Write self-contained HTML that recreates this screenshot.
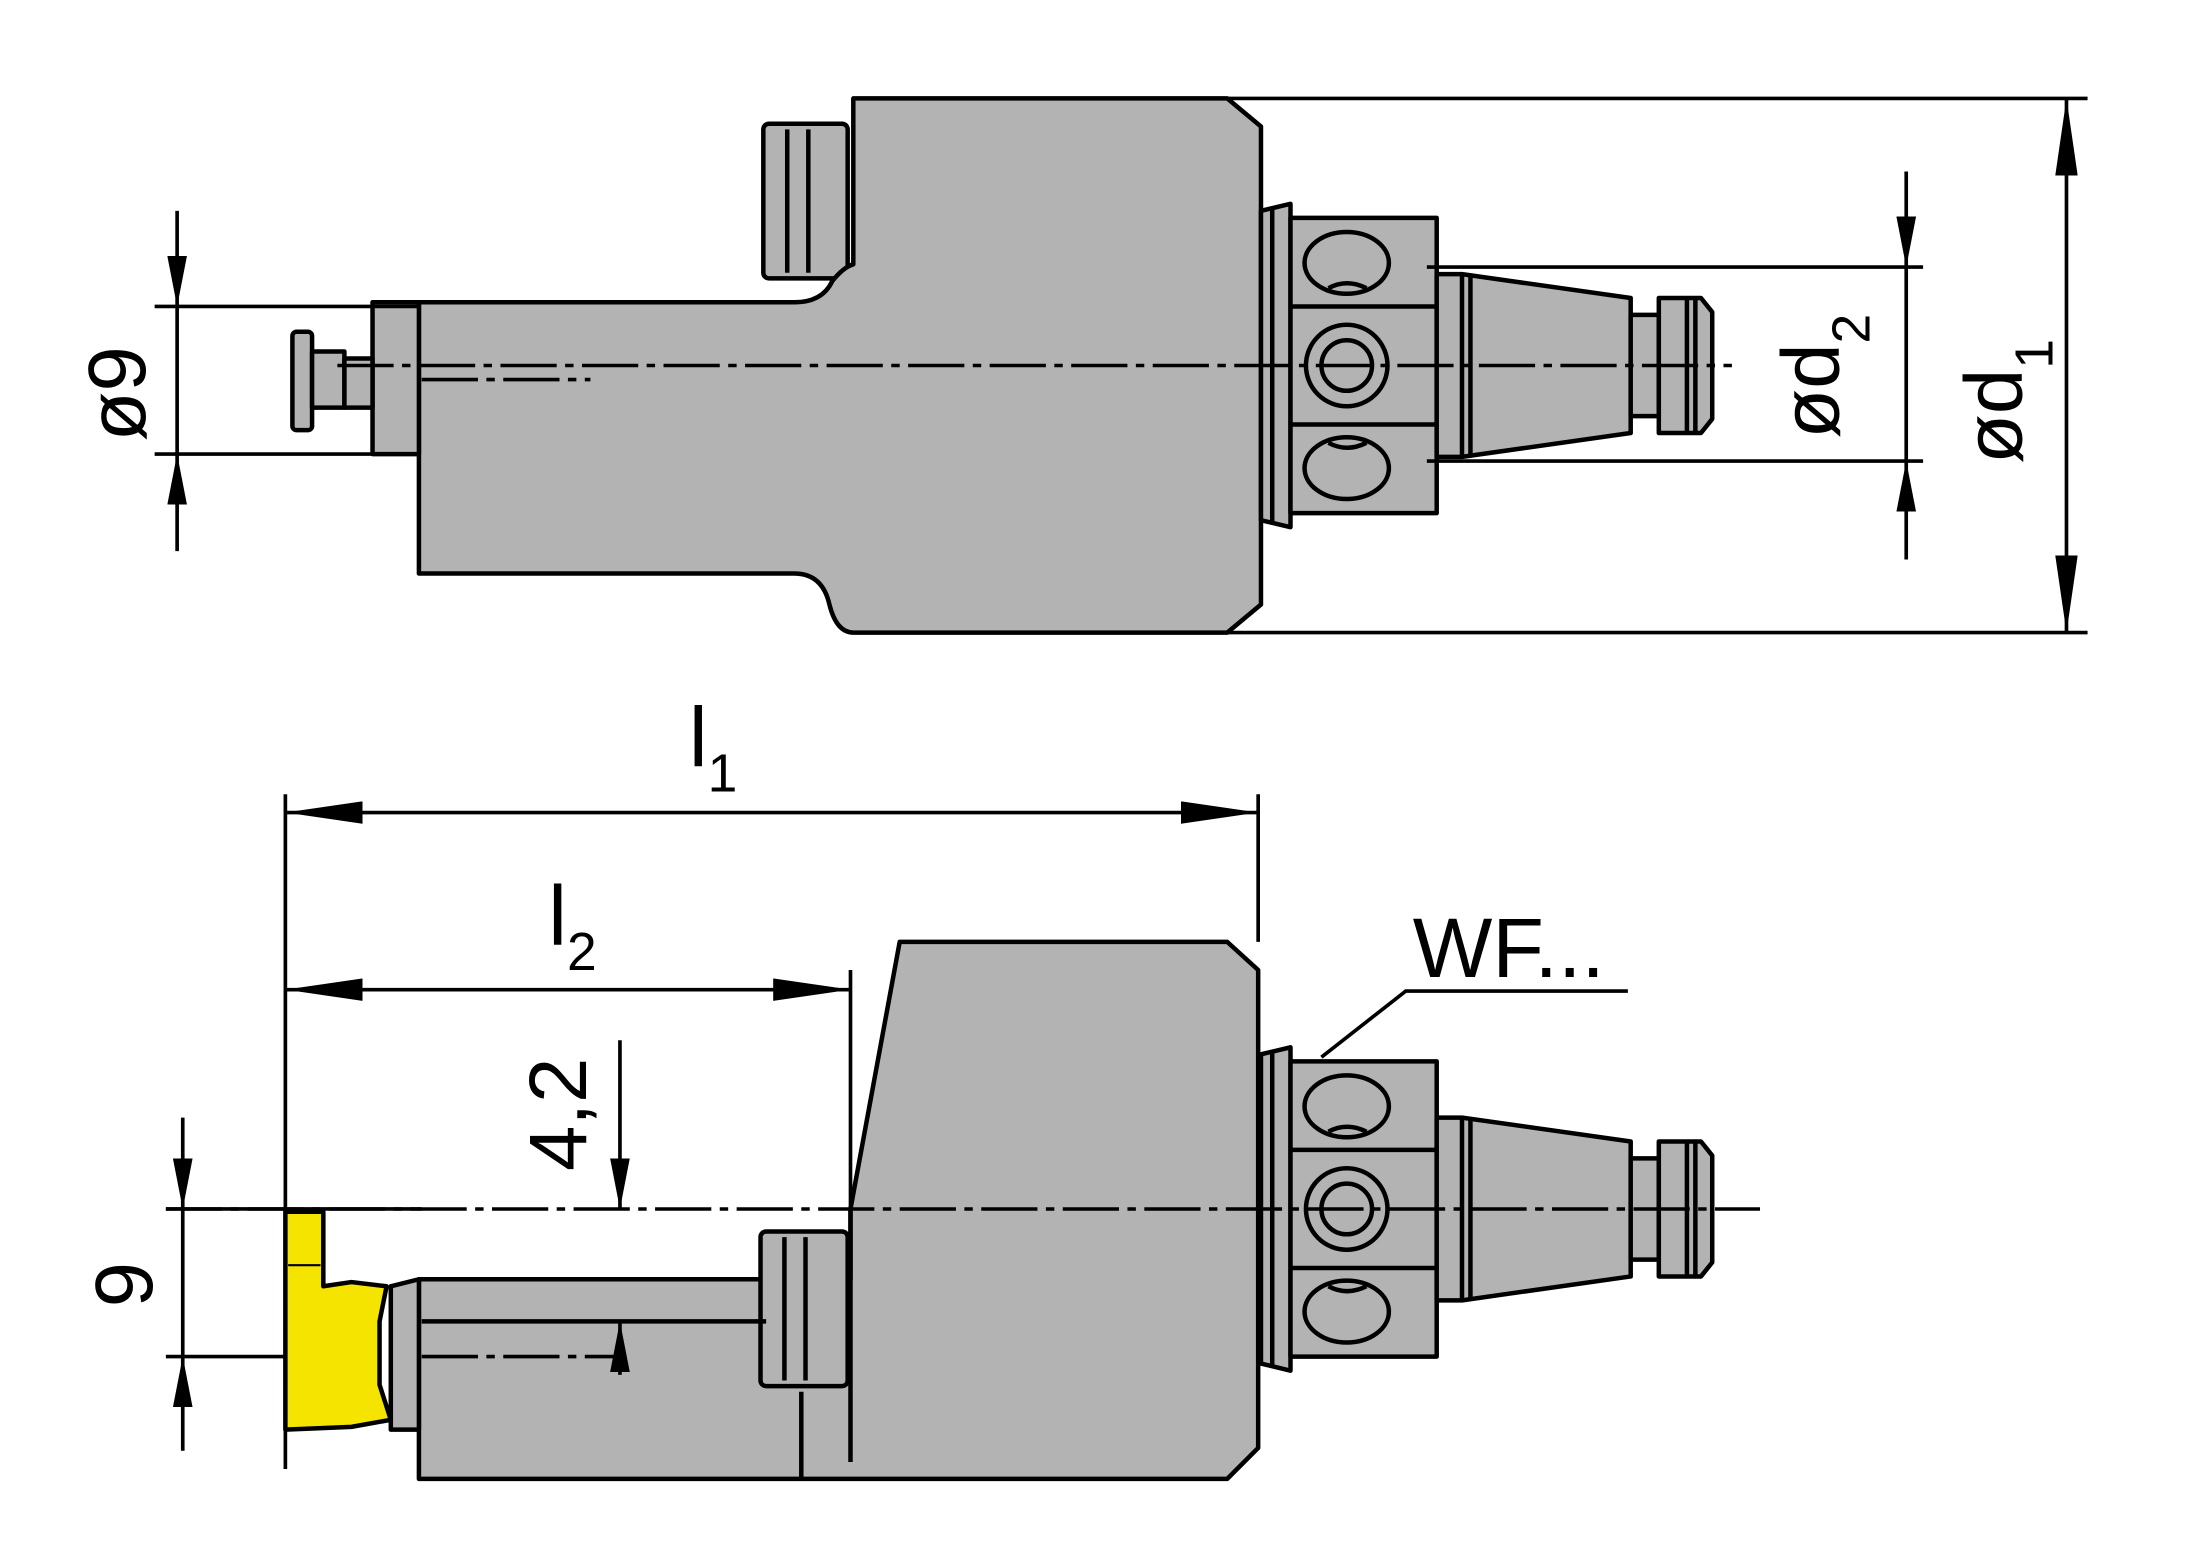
<!DOCTYPE html>
<html><head><meta charset="utf-8"><style>
html,body{margin:0;padding:0;background:#fff}
svg{display:block}
text{font-family:"Liberation Sans",Arial,sans-serif;fill:#000}
</style></head><body>
<svg width="2193" height="1559" viewBox="0 0 1560 1109" xmlns="http://www.w3.org/2000/svg">
<defs>
<marker id="a" viewBox="0 0 36 14" refX="36" refY="7" markerWidth="36" markerHeight="14" markerUnits="userSpaceOnUse" orient="auto-start-reverse"><path d="M0,0 L36,7 L0,14 z" fill="#000"/></marker>
<marker id="b" viewBox="0 0 55 16" refX="55" refY="8" markerWidth="55" markerHeight="16" markerUnits="userSpaceOnUse" orient="auto-start-reverse"><path d="M0,0 L55,8 L0,16 z" fill="#000"/></marker>
</defs>
<g stroke="#000" stroke-width="3.2" fill="#b3b3b3" stroke-linejoin="round">
<!-- TOP VIEW -->
<rect x="543" y="88" width="60" height="110" rx="4"/>
<line x1="560" y1="92" x2="560" y2="194"/><line x1="575" y1="92" x2="575" y2="194"/>
<path d="M607,70 L873,70 L897,90 L897,430 L873,450 L607,450 Q595,450 590,430 Q585,408 565,408 L298,408 L298,215 L565,215 Q585,215 592,200 Q600,190 607,188 Z"/>
<path d="M265,215 L298,215 L298,323 L265,323 Z"/>
<rect x="208" y="236" width="14" height="70" rx="3"/>
<path d="M222,250 L245,250 L245,290 L222,290 Z"/>
<path d="M245,255 L265,255 L265,290 L245,290 Z"/>
<path d="M897,150 L918,145 L918,375 L897,370 Z"/>
<line x1="905" y1="148" x2="905" y2="372"/>
<rect x="918" y="155" width="104" height="210"/>
<line x1="918" y1="218" x2="1022" y2="218"/><line x1="918" y1="302" x2="1022" y2="302"/>
<ellipse cx="958" cy="187" rx="30" ry="22"/><path d="M945,205 Q958,198 972,205" fill="none"/>
<ellipse cx="958" cy="333" rx="30" ry="22"/><path d="M945,315 Q958,322 972,315" fill="none"/>
<circle cx="958" cy="260" r="29"/><circle cx="958" cy="260" r="18"/>
<path d="M1022,195 L1040,195 L1160,212 L1160,308 L1040,325 L1022,325 Z"/>
<line x1="1040" y1="195" x2="1040" y2="325"/><line x1="1046" y1="195" x2="1046" y2="325"/>
<rect x="1160" y="224" width="20" height="72"/>
<path d="M1180,212 L1210,212 L1218,222 L1218,298 L1210,308 L1180,308 Z"/>
<line x1="1200" y1="212" x2="1200" y2="308"/><line x1="1206" y1="212" x2="1206" y2="308"/>
<!-- BOTTOM VIEW -->
<path d="M640,670 L873,670 L895,690 L895,1030 L873,1052 L298,1052 L298,910 L545,910 L605,910 L605,860 Z"/>
<line x1="605" y1="860" x2="605" y2="1040"/><line x1="570" y1="990" x2="570" y2="1052"/>
<rect x="541" y="876" width="62" height="110" rx="4"/>
<line x1="558" y1="880" x2="558" y2="982"/><line x1="573" y1="880" x2="573" y2="982"/>
<line x1="300" y1="940" x2="545" y2="940"/>
<path d="M203,862 L230,862 L230,915 L250,912 L275,915 L270,940 L270,985 L278,1010 L250,1015 L203,1017 Z" fill="#f5e400"/>
<line x1="205" y1="900" x2="228" y2="900" stroke-width="1.5"/>
<path d="M278,915 L298,910 L298,1017 L278,1017 Z"/>
<path d="M897,750 L918,745 L918,975 L897,970 Z"/>
<line x1="905" y1="748" x2="905" y2="972"/>
<rect x="918" y="755" width="104" height="210"/>
<line x1="918" y1="818" x2="1022" y2="818"/><line x1="918" y1="902" x2="1022" y2="902"/>
<ellipse cx="958" cy="787" rx="30" ry="22"/><path d="M945,805 Q958,798 972,805" fill="none"/>
<ellipse cx="958" cy="933" rx="30" ry="22"/><path d="M945,915 Q958,922 972,915" fill="none"/>
<circle cx="958" cy="860" r="29"/><circle cx="958" cy="860" r="18"/>
<path d="M1022,795 L1040,795 L1160,812 L1160,908 L1040,925 L1022,925 Z"/>
<line x1="1040" y1="795" x2="1040" y2="925"/><line x1="1046" y1="795" x2="1046" y2="925"/>
<rect x="1160" y="824" width="20" height="72"/>
<path d="M1180,812 L1210,812 L1218,822 L1218,898 L1210,908 L1180,908 Z"/>
<line x1="1200" y1="812" x2="1200" y2="908"/><line x1="1206" y1="812" x2="1206" y2="908"/>
</g>
<g stroke="#000" stroke-width="2.5" stroke-dasharray="40,6,6,6" fill="none">
<line x1="240" y1="260" x2="1232" y2="260"/>
<line x1="300" y1="270" x2="420" y2="270"/>
<line x1="118" y1="860" x2="1252" y2="860"/>
<line x1="300" y1="965" x2="440" y2="965"/>
</g>
<g stroke="#000" stroke-width="2.6" fill="none">
<line x1="110" y1="218" x2="298" y2="218"/><line x1="110" y1="323" x2="298" y2="323"/>
<line x1="126" y1="150" x2="126" y2="218" marker-end="url(#a)"/><line x1="126" y1="392" x2="126" y2="323" marker-end="url(#a)"/>
<line x1="126" y1="218" x2="126" y2="323"/>
<line x1="1015" y1="190" x2="1368" y2="190"/><line x1="1015" y1="328" x2="1368" y2="328"/>
<line x1="1356" y1="122" x2="1356" y2="190" marker-end="url(#a)"/><line x1="1356" y1="398" x2="1356" y2="328" marker-end="url(#a)"/>
<line x1="1356" y1="190" x2="1356" y2="328"/>
<line x1="873" y1="70" x2="1485" y2="70"/><line x1="873" y1="450" x2="1485" y2="450"/>
<line x1="1470" y1="70" x2="1470" y2="450" marker-start="url(#b)" marker-end="url(#b)"/>
<line x1="203" y1="565" x2="203" y2="1045"/><line x1="895" y1="565" x2="895" y2="670"/><line x1="605" y1="690" x2="605" y2="860"/>
<line x1="203" y1="578" x2="895" y2="578" marker-start="url(#b)" marker-end="url(#b)"/>
<line x1="203" y1="704" x2="605" y2="704" marker-start="url(#b)" marker-end="url(#b)"/>
<line x1="118" y1="860" x2="300" y2="860"/><line x1="118" y1="965" x2="203" y2="965"/>
<line x1="130" y1="795" x2="130" y2="860" marker-end="url(#a)"/><line x1="130" y1="1032" x2="130" y2="965" marker-end="url(#a)"/>
<line x1="130" y1="860" x2="130" y2="965"/>
<line x1="441" y1="740" x2="441" y2="860" marker-end="url(#a)"/><line x1="441" y1="978" x2="441" y2="940" marker-end="url(#a)"/>
<polyline points="940,752 1000,705 1158,705"/>
</g>
<text x="0" y="0" font-size="58" transform="translate(103,314) rotate(-90)">ø9</text>
<text x="0" y="0" font-size="58" transform="translate(1308,312) rotate(-90)">ød<tspan font-size="38" dy="22">2</tspan></text>
<text x="0" y="0" font-size="58" transform="translate(1438,330) rotate(-90)">ød<tspan font-size="38" dy="22">1</tspan></text>
<text x="0" y="0" font-size="58" transform="translate(108,930) rotate(-90)">9</text>
<text x="0" y="0" font-size="58" transform="translate(417,833) rotate(-90)">4,2</text>
<text x="490" y="545" font-size="60">l<tspan font-size="38" dy="18">1</tspan></text>
<text x="390" y="672" font-size="60">l<tspan font-size="38" dy="18">2</tspan></text>
<text x="1005" y="695" font-size="60">WF...</text>
</svg>
</body></html>
